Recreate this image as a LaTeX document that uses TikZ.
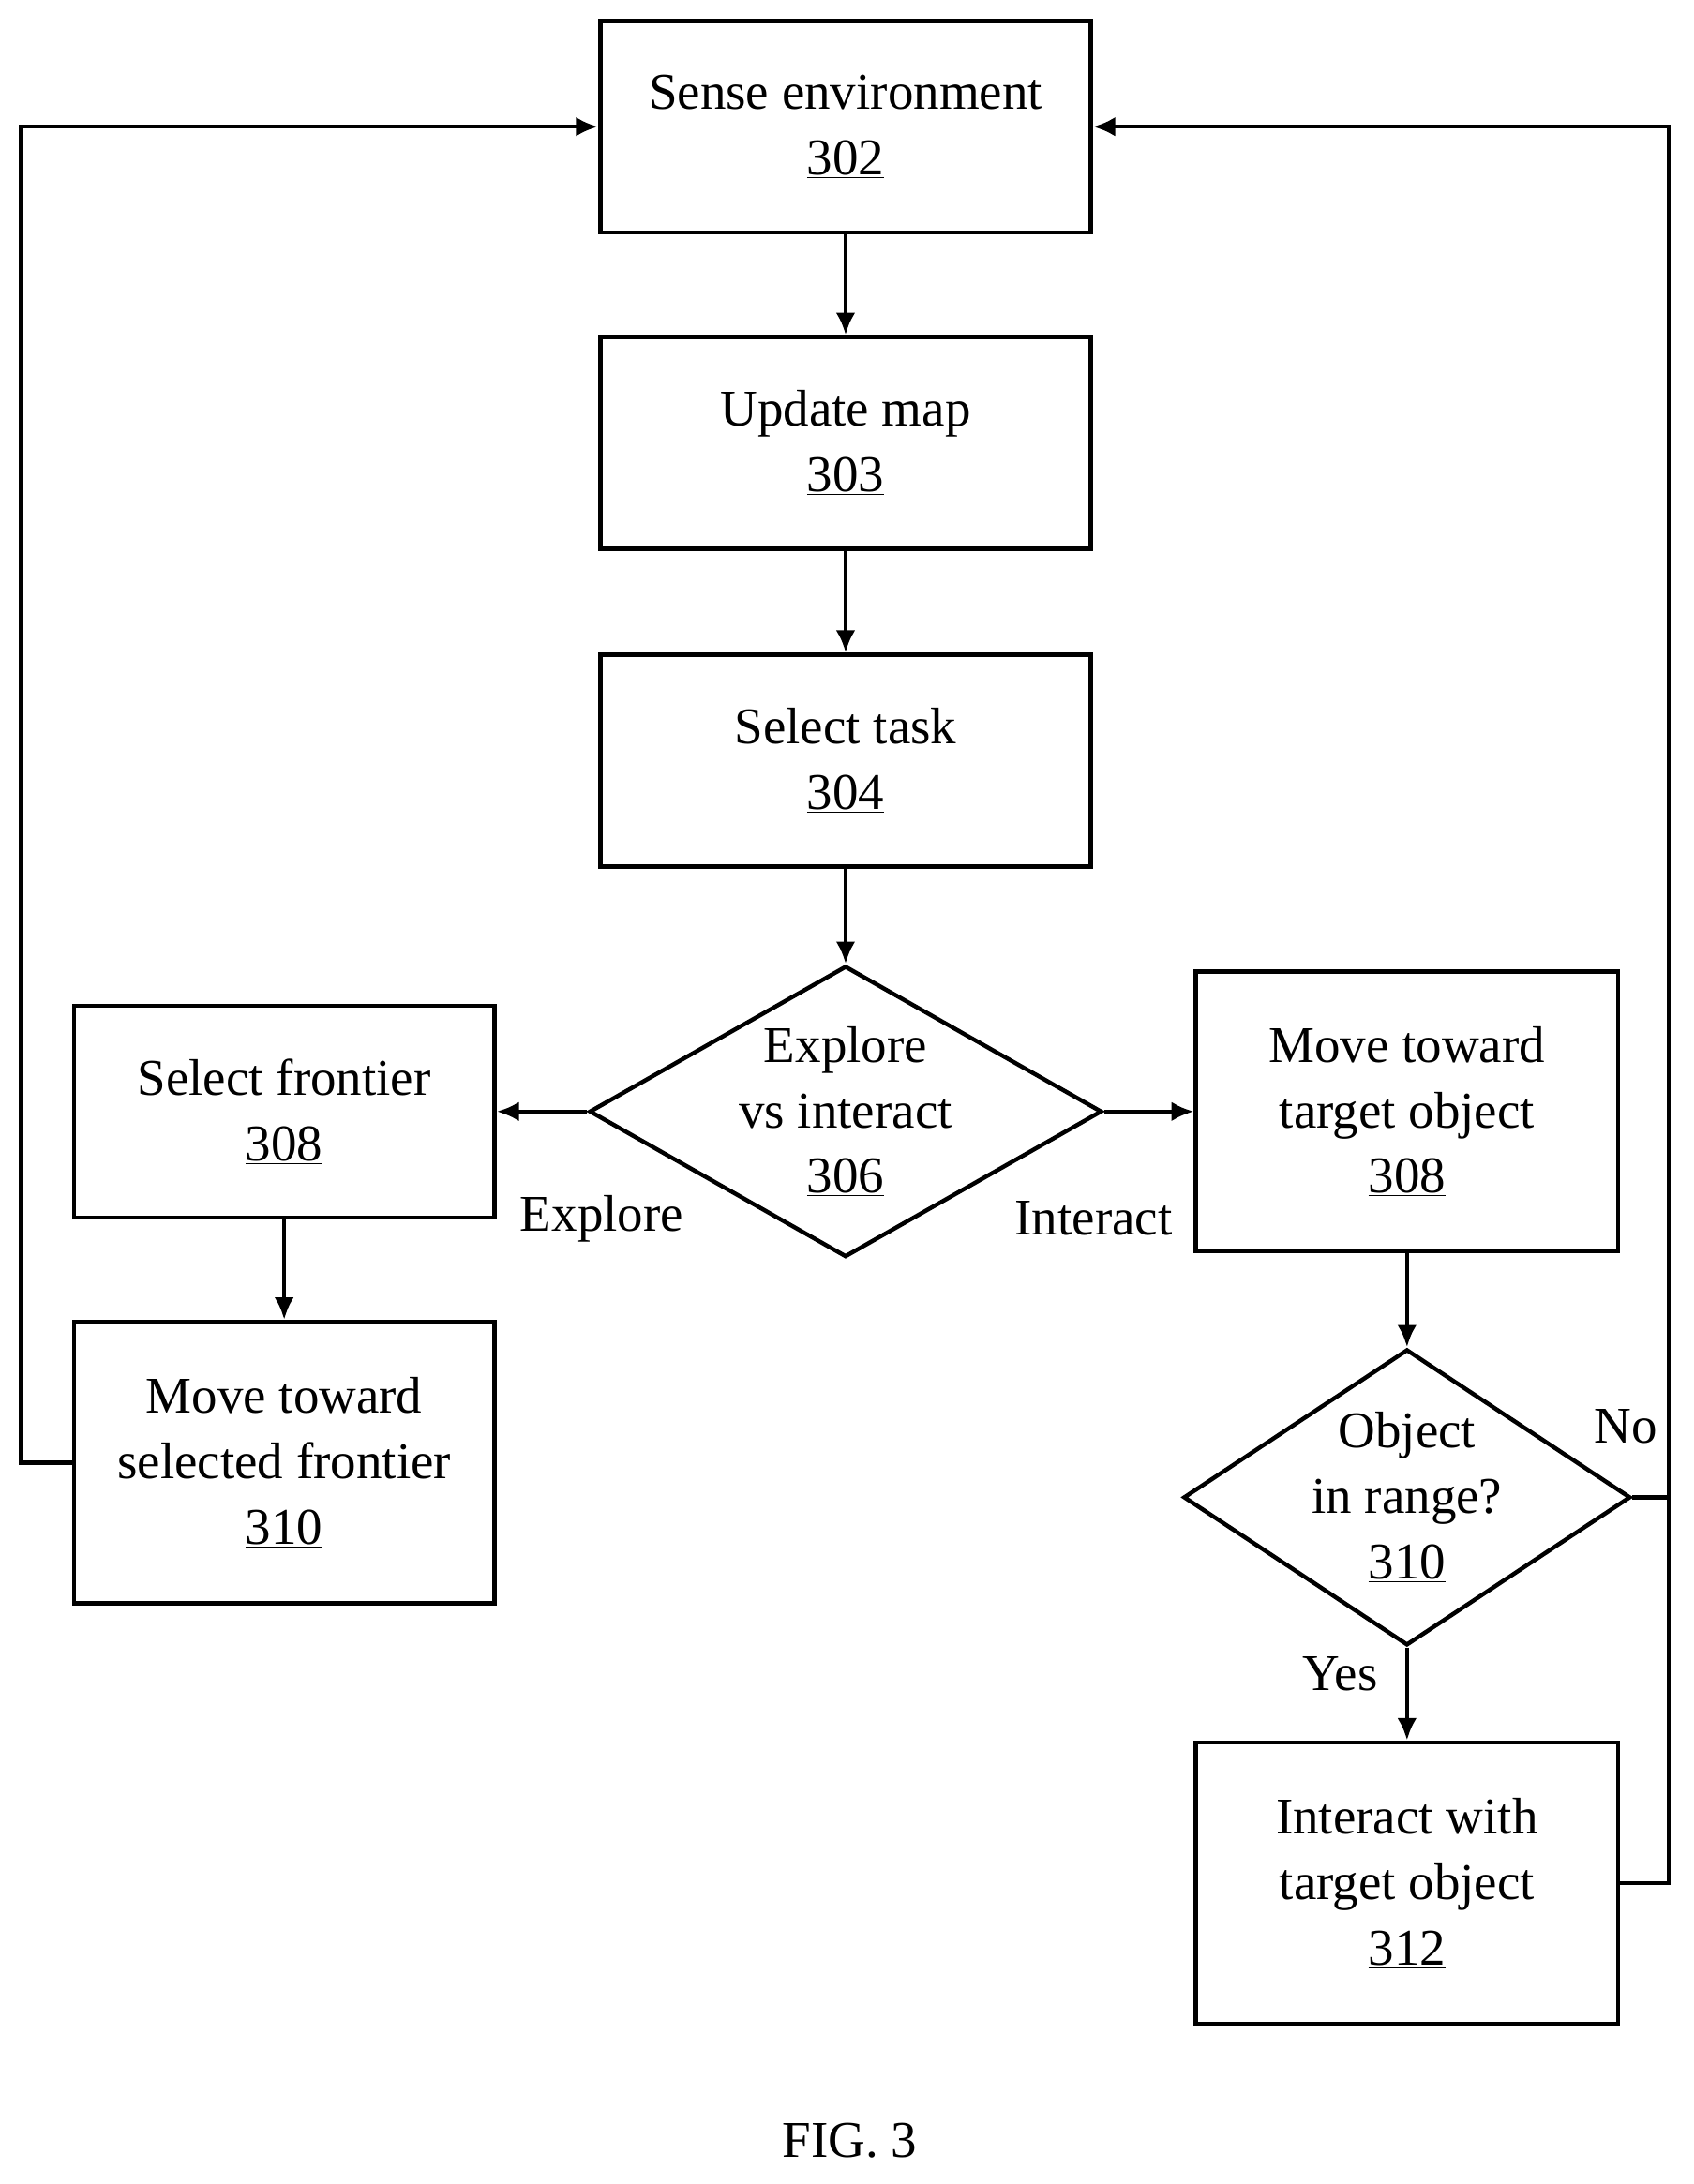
\documentclass[tikz,border=0pt]{standalone}
\usepackage{fontspec}
\setmainfont{Liberation Serif}
\usetikzlibrary{shapes.geometric,arrows.meta}
\begin{document}
\begin{tikzpicture}[x=1pt,y=-1pt,
  every node/.style={font=\fontsize{37}{47}\selectfont},
  box/.style={draw,line width=3pt,minimum width=352pt,minimum height=152pt,align=center,inner sep=0pt},
  dia/.style={draw,line width=3pt,diamond,aspect=1.76,minimum width=352pt,minimum height=200pt,align=center,inner sep=0pt},
  ar/.style={line width=3pt,-{Latex[length=16pt,width=14pt]}},
  ln/.style={line width=3pt}]
\useasboundingbox (0,0) rectangle (1216,1568);
\node[box] (a) at (607,91) {Sense environment\\\underline{302}};
\node[box] (b) at (607,318) {Update map\\\underline{303}};
\node[box] (c) at (607,546) {Select task\\\underline{304}};
\node[dia] (d) at (607,798) {Explore\\vs interact\\\underline{306}};
\node[box,minimum width=302pt] (e) at (204,798) {Select frontier\\\underline{308}};
\node[box,minimum width=302pt,minimum height=202pt] (f) at (204,1050) {Move toward\\selected frontier\\\underline{310}};
\node[box,minimum width=303pt,minimum height=201pt] (g) at (1010,798) {Move toward\\target object\\\underline{308}};
\node[dia,minimum width=302pt,aspect=1.51] (h) at (1010,1075) {Object\\in range?\\\underline{310}};
\node[box,minimum width=303pt,minimum height=202pt] (i) at (1010,1352) {Interact with\\target object\\\underline{312}};
\node (fig) at (610,1537) {FIG. 3};
\node (lx) at (432,875) {Explore};
\node (li) at (785,875) {Interact};
\node (ln) at (1167,1024) {No};
\node (ly) at (962,1202) {Yes};
\coordinate (L1) at (15,1050); \coordinate (L2) at (15,91);
\coordinate (R1) at (1198,1075); \coordinate (R2) at (1198,1352); \coordinate (R3) at (1198,91);
\draw[ar] (a) -- (b);
\draw[ar] (b) -- (c);
\draw[ar] (c) -- (d);
\draw[ar] (d.west) -- (e.east);
\draw[ar] (d.east) -- (g.west);
\draw[ar] (e) -- (f);
\draw[ar] (g) -- (h);
\draw[ar] (h) -- (i);
\draw[ar] (f.west) -- (L1) -- (L2) -- (a.west);
\draw[ln] (h.east) -- (R1);
\draw[ar] (i.east) -- (R2) -- (R3) -- (a.east);
\end{tikzpicture}
\end{document}
